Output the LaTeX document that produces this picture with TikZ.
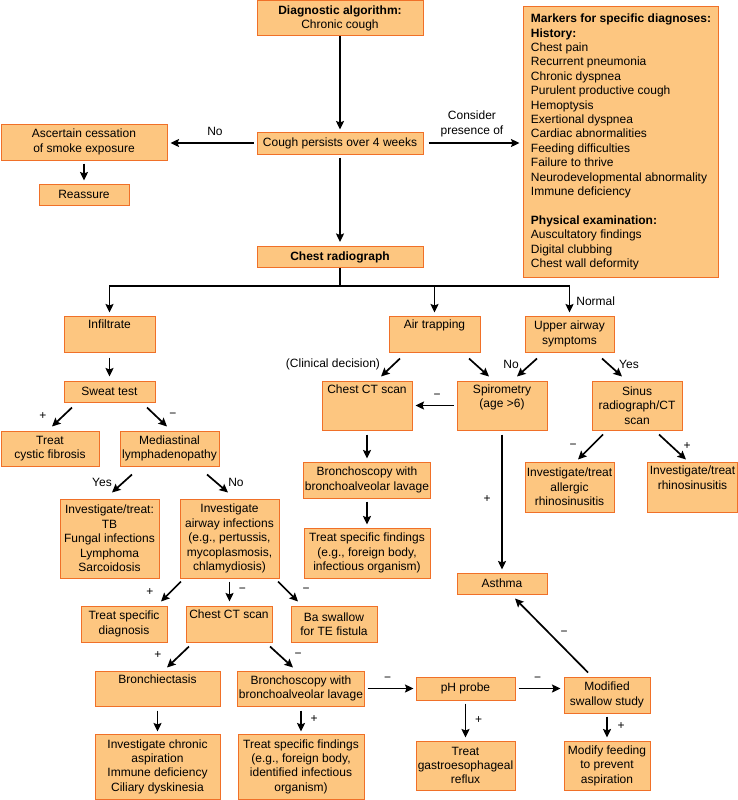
\documentclass[tikz,border=0pt]{standalone}
\usepackage{fontspec}
\setmainfont{Liberation Sans}
\usetikzlibrary{arrows.meta,calc}
\definecolor{boxfill}{RGB}{253,198,128}
\definecolor{boxline}{RGB}{240,112,40}
\tikzset{
  box/.style n args={2}{draw=boxline, fill=boxfill, line width=1pt, align=center, inner sep=1pt, minimum width=#1pt, minimum height=#2pt},
  arr/.style={line width=1.7pt, -{Stealth[length=8.5pt,width=8pt,inset=1.5pt]}},
  gap/.style={shorten <=3pt, shorten >=3pt},
  lbl/.style={inner sep=0pt, align=center},
}
\begin{document}
\begin{tikzpicture}[x=1pt,y=-1pt,font=\fontsize{12}{14.4}\selectfont]
\useasboundingbox (0,0) rectangle (738,800);
%start
\node[box={166}{35}] (diag) at (340,18.5) {\textbf{Diagnostic algorithm:}\\Chronic cough};
\node[box={166}{22}] (cough) at (340,143) {Cough persists over 4 weeks};
\node[box={166}{36}] (smoke) at (84,142) {Ascertain cessation\\of smoke exposure};
\node[box={90}{21}] (reassure) at (84,194.5) {Reassure};
\node[box={166}{21}] (cxr) at (340,257) {\textbf{Chest radiograph}};
%markers
\node[box={194}{270}, align=left, inner xsep=7pt] (markers) at (621,142) {\textbf{Markers for specific diagnoses:}\\\textbf{History:}\\Chest pain\\Recurrent pneumonia\\Chronic dyspnea\\Purulent productive cough\\Hemoptysis\\Exertional dyspnea\\Cardiac abnormalities\\Feeding difficulties\\Failure to thrive\\Neurodevelopmental abnormality\\Immune deficiency\\[14.4pt]\textbf{Physical examination:}\\Auscultatory findings\\Digital clubbing\\Chest wall deformity};

%left branch
\node[box={91}{36}] (infil) at (109.5,334) {Infiltrate\\\strut};
\node[box={91}{21}] (sweat) at (109.5,391.5) {Sweat test};
\node[box={98}{35}] (cf) at (50,448.5) {Treat\\cystic fibrosis};
\node[box={99}{35}] (medias) at (169.5,448.5) {Mediastinal\\lymphadenopathy};
\node[box={99}{79}] (invtb) at (109.5,538.5) {Investigate/treat:\\TB\\Fungal infections\\Lymphoma\\Sarcoidosis};
\node[box={99}{79}] (invair) at (229.5,538.5) {Investigate\\airway infections\\(e.g., pertussis,\\mycoplasmosis,\\chlamydiosis)};
\node[box={86}{36}] (treatdx) at (124,624) {Treat specific\\diagnosis};
\node[box={86}{36}] (ctscanB) at (229,624) {Chest CT scan\\\strut};
\node[box={86}{36}] (baswallow) at (334,624) {Ba swallow\\for TE fistula};
\node[box={125}{35}] (bronchiect) at (157.5,688.5) {Bronchiectasis\\\strut};
\node[box={126}{35}] (bronchB) at (301,688.5) {Bronchoscopy with\\bronchoalveolar lavage};
\node[box={125}{65}] (chronic) at (157.5,766.5) {Investigate chronic\\aspiration\\Immune deficiency\\Ciliary dyskinesia};
\node[box={126}{65}] (treatB) at (301,766.5) {Treat specific findings\\(e.g., foreign body,\\identified infectious\\organism)};
\node[box={99}{23}] (phprobe) at (465.5,688.5) {pH probe};
\node[box={99}{49}] (ger) at (465.5,765.5) {Treat\\gastroesophageal\\reflux};
\node[box={86}{36}] (swallow) at (607,695) {Modified\\swallow study};
\node[box={86}{49}] (feeding) at (607,765.5) {Modify feeding\\to prevent\\aspiration};

%middle and right branch
\node[box={91}{36}] (airtrap) at (434.5,334) {Air trapping\\\strut};
\node[box={89}{36}] (upper) at (569.5,334) {Upper airway\\symptoms};
\node[box={90}{49}] (ctscanA) at (367,405.5) {Chest CT scan\\\strut\\\strut};
\node[box={90}{49}] (spiro) at (502,405.5) {Spirometry\\(age >6)\\\strut};
\node[box={90}{49}] (sinus) at (637,405.5) {Sinus\\radiograph/CT\\scan};
\node[box={126}{36}] (bronchA) at (367,480) {Bronchoscopy with\\bronchoalveolar lavage};
\node[box={126}{50}] (treatA) at (367,553) {Treat specific findings\\(e.g., foreign body,\\infectious organism)};
\node[box={89}{50}] (allergic) at (569.5,487) {Investigate/treat\\allergic\\rhinosinusitis};
\node[box={90}{50}] (rhino) at (692.5,487) {Investigate/treat\\rhinosinusitis\\\strut};
\node[box={90}{21}] (asthma) at (502,583.5) {Asthma};

%top arrows
\draw[arr, shorten >=2pt] (diag) -- (cough);
\draw[arr, gap] (cough.west) -- node[lbl, xshift=3pt, yshift=12pt]{No} (cough.west -| smoke.east);
\draw[arr, gap] (smoke) -- (reassure);
\draw[arr, shorten <=5pt, shorten >=4pt] (cough.east) -- node[lbl, xshift=-1.5pt, yshift=19pt]{Consider\\presence of} (cough.east -| markers.west);
\draw[arr, shorten <=3pt, shorten >=4pt] (cough) -- (cxr);
\draw[line width=1.7pt] (cxr.south) -- ++(0,18) coordinate (split);
\draw[arr, shorten >=3pt] (split) -| (infil.north);
\draw[arr, shorten >=3pt] (split) -| (airtrap.north);
\draw[arr, shorten >=3pt] (split) -| node[lbl, pos=.75, right=6pt]{Normal} (upper.north);

%left arrows
\draw[arr, shorten <=5pt, shorten >=4pt] (infil) -- (sweat);
\draw[arr] ($(sweat.south)+(-37.5,5)$) -- node[lbl, xshift=-19pt, yshift=1pt]{+} ($(cf.north)+(2,-4)$);
\draw[arr] ($(sweat.south)+(37.5,5)$) -- node[lbl, xshift=16pt, yshift=2pt]{−} ($(medias.north)+(-2.5,-4)$);
\draw[arr] ($(medias.south)+(-37.5,8)$) -- node[lbl, xshift=-20pt, yshift=1.5pt]{Yes} ($(invtb.north)+(2.5,-6)$);
\draw[arr] ($(medias.south)+(37.5,8)$) -- node[lbl, xshift=18.5pt, yshift=1.5pt]{No} ($(invair.north)+(-1.5,-6)$);
\draw[arr] ($(invair.south)+(-48.5,3)$) -- node[lbl, xshift=-21pt, yshift=-0.5pt]{+} ($(treatdx.north)+(37,-4)$);
\draw[arr, shorten <=3pt, shorten >=4pt] (invair.south) -- node[lbl, xshift=13pt, yshift=1.5pt]{−} (invair.south |- ctscanB.north);
\draw[arr] ($(invair.south)+(48.5,3)$) -- node[lbl, xshift=18pt, yshift=1.5pt]{−} ($(baswallow.north)+(-36,-4)$);
\draw[arr] ($(ctscanB.south)+(-40,4)$) -- node[lbl, xshift=-20pt, yshift=2pt]{+} ($(bronchiect.north)+(9.5,-3)$);
\draw[arr] ($(ctscanB.south)+(41,4)$) -- node[lbl, xshift=16.5pt, yshift=2pt]{−} ($(bronchB.north)+(-8,-3)$);
\draw[arr, shorten <=4pt, shorten >=2pt] (bronchiect) -- (chronic);
\draw[arr, shorten <=4pt, shorten >=2pt] (bronchB) -- node[lbl, xshift=13pt, yshift=1pt]{+} (treatB);
\draw[arr, shorten <=3pt, shorten >=2pt] (bronchB) -- node[lbl, xshift=-2.5pt, yshift=9pt]{−} (phprobe);
\draw[arr, gap] (phprobe) -- node[lbl, xshift=13pt, yshift=0.5pt]{+} (ger);
\draw[arr, gap] (phprobe.east) -- node[lbl, xshift=-2pt, yshift=9pt]{−} (phprobe.east -| swallow.west);
\draw[arr, gap] (swallow) -- node[lbl, xshift=14pt, yshift=1pt]{+} (feeding);
\draw[arr] ($(swallow.north)+(-19,-4)$) -- node[lbl, xshift=12.5pt, yshift=2.5pt]{−} ($(asthma.south)+(13,4)$);

%middle and right arrows
\draw[arr] ($(airtrap.south)+(-34.5,6)$) -- node[lbl, xshift=-57.5pt, yshift=3.5pt]{(Clinical decision)} ($(ctscanA.north)+(14,-4)$);
\draw[arr] ($(airtrap.south)+(34.5,6)$) -- ($(spiro.north)+(-13,-4)$);
\draw[arr] ($(upper.south)+(-32.5,6)$) -- node[lbl, xshift=-16pt, yshift=3.5pt]{No} ($(spiro.north)+(15,-4)$);
\draw[arr] ($(upper.south)+(32.5,6)$) -- node[lbl, xshift=17pt, yshift=3.5pt]{Yes} ($(sinus.north)+(-15,-4)$);
\draw[arr, gap] (spiro.west) -- node[lbl, xshift=2.5pt, yshift=9pt]{−} (ctscanA.east);
\draw[arr, shorten <=4pt, shorten >=3pt] (ctscanA) -- (bronchA);
\draw[arr, gap] (bronchA) -- (treatA);
\draw[arr, shorten <=4pt, shorten >=3pt] (spiro) -- node[lbl, xshift=-15pt, yshift=2pt]{+} (asthma);
\draw[arr] ($(sinus.south)+(-34,4)$) -- node[lbl, xshift=-17.5pt, yshift=1pt]{−} ($(allergic.north)+(8.5,-2)$);
\draw[arr] ($(sinus.south)+(22,4)$) -- node[lbl, xshift=14.5pt, yshift=1pt]{+} ($(rhino.north)+(-6.5,-2)$);
\end{tikzpicture}
\end{document}
